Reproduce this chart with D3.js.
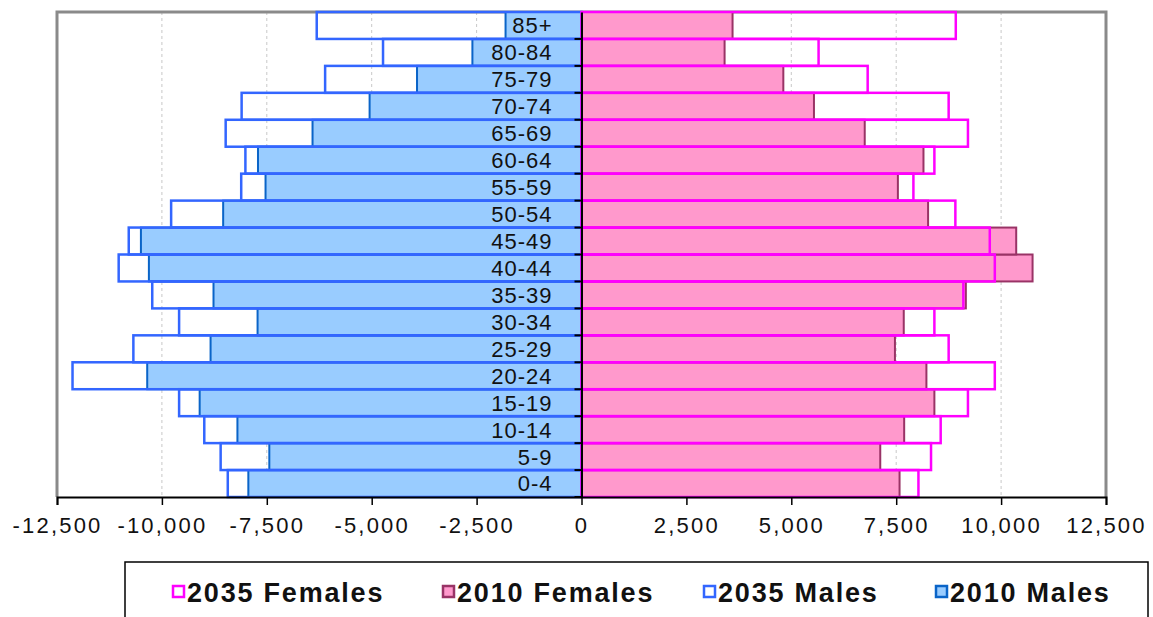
<!DOCTYPE html>
<html><head><meta charset="utf-8">
<script src="https://cdn.jsdelivr.net/npm/d3@7"></script>
<style>
html,body{margin:0;padding:0;background:#fff;}
svg{display:block;font-family:"Liberation Sans",Arial,sans-serif;}
</style></head>
<body>
<svg id="chart" width="1153" height="617"></svg>
<script>
// Age groups, bottom to top
const ages = ["0-4","5-9","10-14","15-19","20-24","25-29","30-34","35-39","40-44","45-49","50-54","55-59","60-64","65-69","70-74","75-79","80-84","85+"];
const males2010   = [7940, 7440, 8200, 9100, 10350, 8840, 7720, 8770, 10310, 10500, 8540, 7530, 7710, 6410, 5050, 3920, 2600, 1810];
const males2035   = [8430, 8600, 8990, 9590, 12130, 10680, 9590, 10230, 11030, 10790, 9780, 8110, 8010, 8480, 8100, 6110, 4730, 6310];
const females2010 = [7580, 7120, 7690, 8410, 8220, 7470, 7680, 9160, 10750, 10360, 8260, 7540, 8150, 6750, 5540, 4810, 3410, 3600];
const females2035 = [8030, 8330, 8560, 9210, 9850, 8750, 8410, 9100, 9850, 9730, 8910, 7910, 8410, 9210, 8750, 6820, 5650, 8920];
const tickValues = [-12500,-10000,-7500,-5000,-2500,0,2500,5000,7500,10000,12500];
const tickLabels = ["-12,500","-10,000","-7,500","-5,000","-2,500","0","2,500","5,000","7,500","10,000","12,500"];
const legendLabels = ["2035 Females","2010 Females","2035 Males","2010 Males"];

const svg = d3.select("#chart");
const x = d3.scaleLinear().domain([-12500, 12500]).range([57, 1106]);
const y = d3.scaleBand().domain(ages.slice().reverse()).range([12, 497]).padding(0);

// gridlines
svg.append("g").selectAll("line").data(tickValues.filter(v => v !== 0 && Math.abs(v) !== 12500))
  .join("line").attr("x1", d => x(d)).attr("x2", d => x(d)).attr("y1", 12).attr("y2", 497)
  .attr("stroke", "#c8c8c8").attr("stroke-width", 1).attr("stroke-dasharray", "3,3");

// frame (top, left, right)
svg.append("path").attr("d", `M${x(-12500)},497 V12 H${x(12500)} V497`)
  .attr("fill", "none").attr("stroke", "#8a8a8a").attr("stroke-width", 3);

const rows = ages.map((a, i) => ({age: a, m10: males2010[i], m35: males2035[i], f10: females2010[i], f35: females2035[i]}));

// 2010 bars (filled)
svg.append("g").selectAll("rect").data(rows).join("rect")
  .attr("x", d => x(-d.m10)).attr("width", d => x(0) - x(-d.m10))
  .attr("y", d => y(d.age)).attr("height", y.bandwidth())
  .attr("fill", "#99ccff").attr("stroke", "#0a64c8").attr("stroke-width", 2);
svg.append("g").selectAll("rect").data(rows).join("rect")
  .attr("x", x(0)).attr("width", d => x(d.f10) - x(0))
  .attr("y", d => y(d.age)).attr("height", y.bandwidth())
  .attr("fill", "#ff99cc").attr("stroke", "#993366").attr("stroke-width", 2);

// 2035 bars (outlines)
svg.append("g").selectAll("rect").data(rows).join("rect")
  .attr("x", d => x(-d.m35)).attr("width", d => x(0) - x(-d.m35))
  .attr("y", d => y(d.age)).attr("height", y.bandwidth())
  .attr("fill", "none").attr("stroke", "#3366ff").attr("stroke-width", 2.5);
svg.append("g").selectAll("rect").data(rows).join("rect")
  .attr("x", x(0)).attr("width", d => x(d.f35) - x(0))
  .attr("y", d => y(d.age)).attr("height", y.bandwidth())
  .attr("fill", "none").attr("stroke", "#ff00ff").attr("stroke-width", 2.5);

// x axis
const xAxis = d3.axisBottom(x).tickValues(tickValues).tickSize(8).tickPadding(8)
  .tickFormat((d, i) => tickLabels[i]);
const gx = svg.append("g").attr("transform", "translate(0,497)").call(xAxis);
gx.select(".domain").attr("stroke", "#000").attr("stroke-width", 2);
gx.selectAll(".tick line").attr("stroke", "#000").attr("stroke-width", 1.5);
gx.selectAll(".tick text").attr("font-size", 22).attr("fill", "#111")
  .attr("font-family", "Liberation Sans, Arial, sans-serif").attr("letter-spacing", 2.2)
  .attr("dy", "0.9em");

// center y axis
const yAxis = d3.axisLeft(y).tickSize(0).tickFormat("");
const gy = svg.append("g").attr("transform", `translate(${x(0)},0)`).call(yAxis);
gy.select(".domain").attr("stroke", "#000").attr("stroke-width", 2);
// boundary ticks
svg.append("g").selectAll("line").data(ages).join("line")
  .attr("x1", x(0) - 7).attr("x2", x(0)).attr("y1", d => y(d) + y.bandwidth()).attr("y2", d => y(d) + y.bandwidth())
  .attr("stroke", "#000").attr("stroke-width", 2);

// category labels
svg.append("g").selectAll("text").data(ages).join("text")
  .attr("x", x(0) - 29).attr("y", d => y(d) + y.bandwidth() / 2)
  .attr("dy", "0.36em").attr("text-anchor", "end")
  .attr("font-size", 22).attr("letter-spacing", 1).attr("fill", "#111")
  .text(d => d);

// legend
const lg = svg.append("g");
lg.append("rect").attr("x", 125).attr("y", 562).attr("width", 1023).attr("height", 80)
  .attr("fill", "#fff").attr("stroke", "#000").attr("stroke-width", 1.5);
const legendStyles = [
  {fill: "#fff", stroke: "#ff00ff"},
  {fill: "#ff99cc", stroke: "#993366"},
  {fill: "#fff", stroke: "#3366ff"},
  {fill: "#99ccff", stroke: "#0a64c8"}
];
const legendX = [173, 443, 704, 936];
const li = lg.selectAll("g.item").data(legendLabels).join("g").attr("class", "item")
  .attr("transform", (d, i) => `translate(${legendX[i]},0)`);
li.append("rect").attr("x", 0).attr("y", 586).attr("width", 11).attr("height", 11)
  .attr("fill", (d, i) => legendStyles[i].fill).attr("stroke", (d, i) => legendStyles[i].stroke).attr("stroke-width", 2.5);
li.append("text").attr("x", 14).attr("y", 602).attr("font-size", 27).attr("font-weight", "bold")
  .attr("letter-spacing", 1.8).attr("fill", "#111").text(d => d);
</script>
</body></html>
